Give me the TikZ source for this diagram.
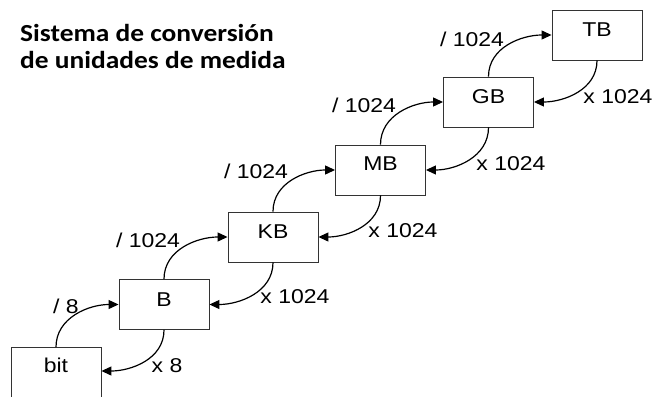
\documentclass[tikz,border=0pt]{standalone}
\usepackage{fontspec}
\setmainfont{Liberation Sans}
\newfontfamily\titlefont{Carlito}[BoldFont={Carlito Bold}]
\usetikzlibrary{arrows.meta}
\newcommand\sx[1]{\scalebox{1.15}[1]{#1}}
\tikzset{
  unitbox/.style={draw=black!80, line width=0.9pt, minimum width=90pt, minimum height=50pt, inner sep=0pt},
  unitlbl/.style={font=\fontsize{20}{22}\selectfont, inner sep=0pt},
  convlbl/.style={font=\fontsize{20}{22}\selectfont, inner sep=0pt},
  conv/.style={line width=1.2pt, -{Triangle[length=10pt,width=9pt]}},
  titlelbl/.style={font=\titlefont\bfseries\fontsize{24.5}{28}\selectfont, inner sep=0pt, anchor=base west}
}
\begin{document}
\begin{tikzpicture}[x=1pt,y=-1pt]
\useasboundingbox (0,0) rectangle (655,396);
% boxes
\node[unitbox] (bit) at (56,372.5) {};
\node[unitbox] (B)   at (164,304.5) {};
\node[unitbox] (KB)  at (273,237) {};
\node[unitbox] (MB)  at (380.5,170) {};
\node[unitbox] (GB)  at (488.5,102) {};
\node[unitbox] (TB)  at (597,35) {};
% box labels
\node[unitlbl] (tbit) at ([yshift=7pt]bit.center) {\sx{bit}};
\node[unitlbl] (tB)   at ([yshift=5pt]B.center) {\sx{B}};
\node[unitlbl] (tKB)  at ([yshift=5pt]KB.center) {\sx{KB}};
\node[unitlbl] (tMB)  at ([yshift=6pt]MB.center) {\sx{MB}};
\node[unitlbl] (tGB)  at ([yshift=5pt]GB.center) {\sx{GB}};
\node[unitlbl] (tTB)  at ([yshift=5.5pt]TB.center) {\sx{TB}};
% up arrows (divide)
\draw[conv] (bit.north) to[out=90,in=180] (B.west);
\draw[conv] (B.north) to[out=90,in=180] (KB.west);
\draw[conv] (KB.north) to[out=90,in=180] (MB.west);
\draw[conv] (MB.north) to[out=90,in=180] (GB.west);
\draw[conv] (GB.north) to[out=90,in=180] (TB.west);
% down arrows (multiply)
\draw[conv] (B.south) to[out=-90,in=0] ([yshift=1.5pt]bit.east);
\draw[conv] (KB.south) to[out=-90,in=0] (B.east);
\draw[conv] (MB.south) to[out=-90,in=0] (KB.east);
\draw[conv] (GB.south) to[out=-90,in=0] (MB.east);
\draw[conv] (TB.south) to[out=-90,in=0] (GB.east);
% conversion labels
\node[convlbl] (d1) at (66,306) {\sx{/ 8}};
\node[convlbl] (m1) at (167,366) {\sx{x 8}};
\node[convlbl] (d2) at (148,240) {\sx{/ 1024}};
\node[convlbl] (m2) at (295,297) {\sx{x 1024}};
\node[convlbl] (d3) at (256,171) {\sx{/ 1024}};
\node[convlbl] (m3) at (403,231) {\sx{x 1024}};
\node[convlbl] (d4) at (364,105) {\sx{/ 1024}};
\node[convlbl] (m4) at (511,164) {\sx{x 1024}};
\node[convlbl] (d5) at (472,39) {\sx{/ 1024}};
\node[convlbl] (m5) at (618,97) {\sx{x 1024}};
% title
\node[titlelbl] (title1) at (20,41.5) {\scalebox{1.12}[1]{Sistema de conversión}};
\node[titlelbl] (title2) at (20,68) {\scalebox{1.12}[1]{de unidades de medida}};
\end{tikzpicture}
\end{document}
